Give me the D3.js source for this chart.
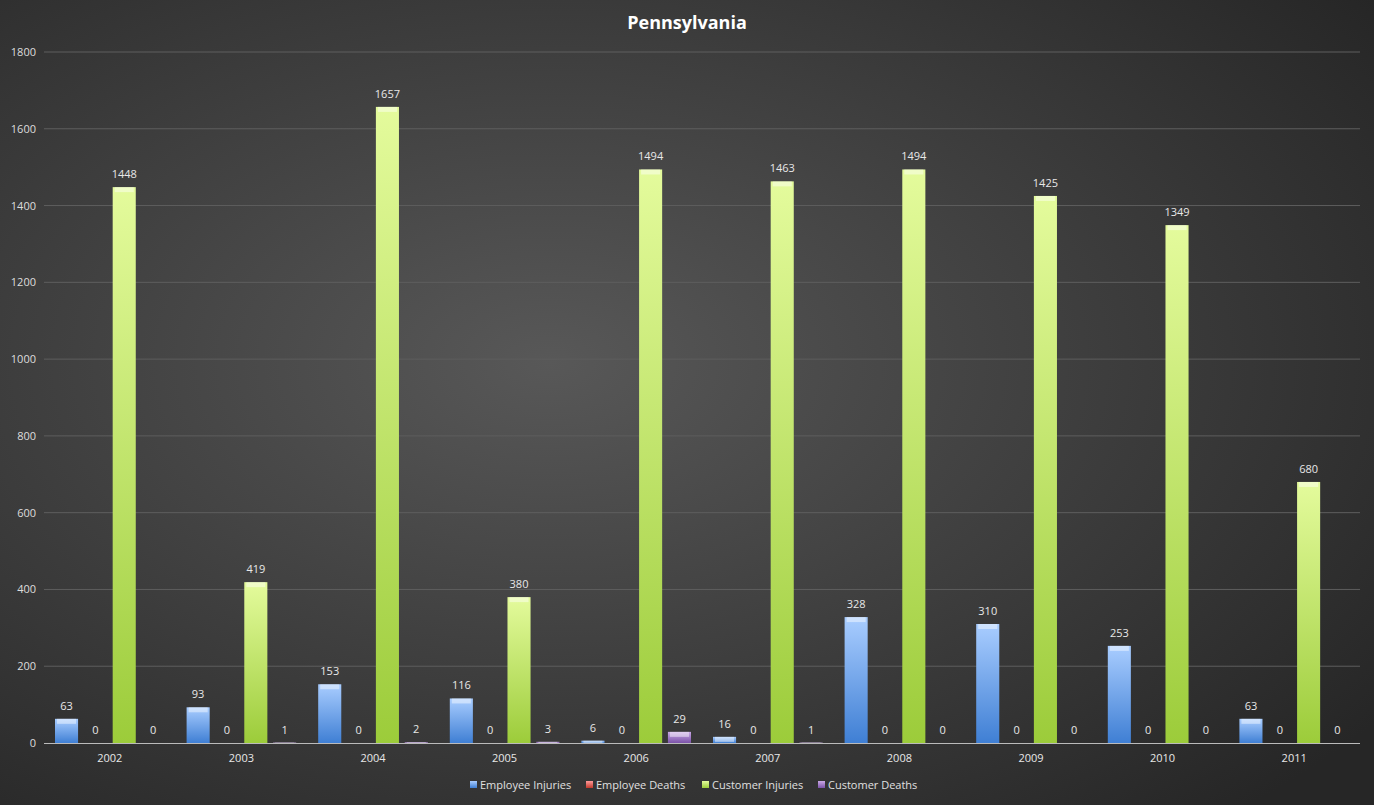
<!DOCTYPE html>
<html><head><meta charset="utf-8">
<script src="https://cdn.jsdelivr.net/npm/d3@7"></script>
<style>body{margin:0;background:#333;font-family:"Open Sans",Calibri,sans-serif;}</style>
</head><body>
<script>
const years = ["2002","2003","2004","2005","2006","2007","2008","2009","2010","2011"];
const seriesNames = ["Employee Injuries","Employee Deaths","Customer Injuries","Customer Deaths"];
const employeeInjuries = [63,93,153,116,6,16,328,310,253,63];
const employeeDeaths = [0,0,0,0,0,0,0,0,0,0];
const customerInjuries = [1448,419,1657,380,1494,1463,1494,1425,1349,680];
const customerDeaths = [0,1,2,3,29,1,0,0,0,0];
const yTicks = [0,200,400,600,800,1000,1200,1400,1600,1800];
const values = [employeeInjuries, employeeDeaths, customerInjuries, customerDeaths];
const colors = [["#a9cdff","#3f7fd4"],["#ff9a9a","#c0392b"],["#e4fb9c","#9ccc3a"],["#c9a8e6","#7b52a8"]];

const W = 1374, H = 805;
const svg = d3.select("body").append("svg").attr("width", W).attr("height", H);
const defs = svg.append("defs");
const bg = defs.append("radialGradient").attr("id","bg").attr("cx","40%").attr("cy","45%").attr("r","75%");
bg.append("stop").attr("offset","0%").attr("stop-color","#585858");
bg.append("stop").attr("offset","100%").attr("stop-color","#262626");
svg.append("rect").attr("width",W).attr("height",H).attr("fill","url(#bg)");

colors.forEach((c,i) => {
  const g = defs.append("linearGradient").attr("id","g"+i).attr("x1",0).attr("x2",0).attr("y1",0).attr("y2",1);
  g.append("stop").attr("offset","0%").attr("stop-color",c[0]);
  g.append("stop").attr("offset","100%").attr("stop-color",c[1]);
});

const x0 = d3.scaleBand().domain(years).range([44,1360]);
const x1 = d3.scaleBand().domain(d3.range(4)).range([11, x0.bandwidth()-11]).paddingInner(0.2);
const y = d3.scaleLinear().domain([0,1800]).range([743,52]);

svg.selectAll(".grid").data(yTicks.slice(1)).join("line")
  .attr("x1",44).attr("x2",1360).attr("y1",d=>y(d)).attr("y2",d=>y(d))
  .attr("stroke","#5e5e5e").attr("stroke-width",1);
svg.selectAll(".yl").data(yTicks).join("text")
  .attr("x",36).attr("y",d=>y(d)+4).attr("text-anchor","end")
  .attr("fill","#ddd").attr("font-size",11).text(d=>d);

years.forEach((yr,yi) => {
  values.forEach((s,si) => {
    const v = s[yi];
    const bx = x0(yr)+x1(si), bw = x1.bandwidth();
    if (v > 0) {
      svg.append("rect").attr("x",bx).attr("y",y(v)).attr("width",bw).attr("height",y(0)-y(v))
        .attr("fill","url(#g"+si+")");
      svg.append("rect").attr("x",bx+2).attr("y",y(v)).attr("width",bw-4).attr("height",Math.min(5,y(0)-y(v)))
        .attr("fill","#fff").attr("opacity",0.45);
    }
    svg.append("text").attr("x",bx+bw/2).attr("y",y(v)-9).attr("text-anchor","middle")
      .attr("fill","#e8e8e8").attr("font-size",11).text(v);
  });
  svg.append("text").attr("x",x0(yr)+x0.bandwidth()/2).attr("y",762).attr("text-anchor","middle")
    .attr("fill","#e8e8e8").attr("font-size",11).text(yr);
});
svg.append("line").attr("x1",44).attr("x2",1360).attr("y1",743.5).attr("y2",743.5).attr("stroke","#bbb");

svg.append("text").attr("x",687).attr("y",29).attr("text-anchor","middle")
  .attr("fill","#fff").attr("font-size",18).attr("font-weight","bold").text("Pennsylvania");

const legX = [470,586,702,818];
seriesNames.forEach((n,i) => {
  svg.append("rect").attr("x",legX[i]).attr("y",781).attr("width",7).attr("height",7).attr("fill","url(#g"+i+")");
  svg.append("text").attr("x",legX[i]+10).attr("y",789).attr("fill","#e0e0e0").attr("font-size",11).text(n);
});
</script>
</body></html>
